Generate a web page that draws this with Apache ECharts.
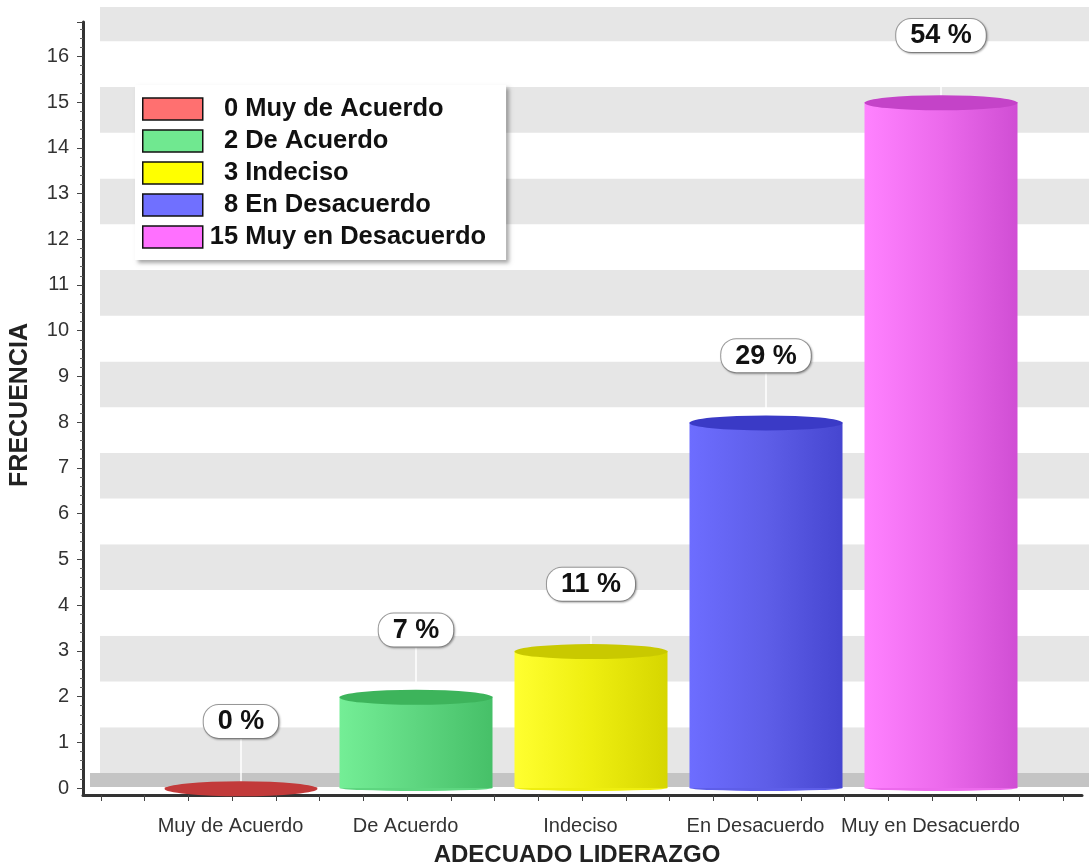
<!DOCTYPE html>
<html><head><meta charset="utf-8">
<script src="https://cdn.jsdelivr.net/npm/echarts@6/dist/echarts.min.js"></script>
<style>html,body{margin:0;padding:0;background:#fff}#c{width:1089px;height:864px}</style>
</head><body><div id="c"></div>
<script>
// ---- data ----
const categories = ['Muy de Acuerdo', 'De Acuerdo', 'Indeciso', 'En Desacuerdo', 'Muy en Desacuerdo'];
const values = [0, 2, 3, 8, 15];
const percentLabels = ['0 %', '7 %', '11 %', '29 %', '54 %'];
const yMin = 0, yMax = 16.75, yInterval = 1;
const xTitle = 'ADECUADO LIDERAZGO';
const yTitle = 'FRECUENCIA';

// ---- styles ----
const legendColors = ['#ff7070', '#70e890', '#ffff00', '#7070ff', '#ff70ff'];
const bodyLeft = ['#e05050', '#74ee96', '#ffff30', '#6d6dff', '#ff82ff'];
const bodyMid = ['#d04444', '#5ed680', '#eeee10', '#5e5ee8', '#ec6aec'];
const bodyRight = ['#c03a3a', '#46c068', '#d6d600', '#4646d0', '#d04ed4'];
const topColors = ['#c23a3a', '#3db45b', '#c9c900', '#3a3ac6', '#c443c8'];

const FONT = "'Liberation Sans', Arial, sans-serif";

const chart = echarts.init(document.getElementById('c'), null, {renderer: 'canvas'});

const barSeries = categories.map((name, i) => ({
  type: 'bar', name: name, xAxisIndex: 0, yAxisIndex: 0,
  data: values.map((v, j) => j === i ? v : '-'),
  barWidth: 153, barGap: '-100%',
  itemStyle: {color: new echarts.graphic.LinearGradient(0, 0, 1, 0, [
    {offset: 0, color: bodyLeft[i]}, {offset: 0.5, color: bodyMid[i]}, {offset: 1, color: bodyRight[i]}])},
  label: {
    show: true, position: 'top', distance: 0,
    formatter: p => percentLabels[p.dataIndex],
    fontFamily: FONT, fontWeight: 'bold', fontSize: 27, color: '#111',
    backgroundColor: '#fff', borderColor: '#999', borderWidth: 1, borderRadius: 15,
    padding: [3, 14, 2, 14], lineHeight: 28,
    shadowColor: 'rgba(0,0,0,0.25)', shadowBlur: 2, shadowOffsetX: 1, shadowOffsetY: 1
  },
  labelLayout: {dy: -50},
  labelLine: {show: true, lineStyle: {color: '#ffffff', width: 1.5}},
  z: 3
}));

const tops = {
  type: 'pictorialBar', name: 'tops', xAxisIndex: 0, yAxisIndex: 0,
  data: values.map((v, i) => ({value: v, itemStyle: {color: topColors[i]}})),
  symbol: 'circle', symbolSize: [153, 15], symbolPosition: 'end', symbolOffset: [0, '-45%'],
  z: 5, silent: true
};
const bottoms = {
  type: 'pictorialBar', name: 'bottoms', xAxisIndex: 0, yAxisIndex: 0,
  data: values.map((v, i) => ({value: v, itemStyle: {color: bodyMid[i]}})),
  symbol: 'circle', symbolSize: [153, 6], symbolPosition: 'start', symbolOffset: [0, '50%'],
  z: 2, silent: true
};

const G = {containLabel: false, outerBoundsMode: 'none'};
const hiddenX = (gi) => ({type: 'value', gridIndex: gi, min: 0, max: 1, show: false});
const option = {
  backgroundColor: '#fff',
  animation: false,
  grid: [
    Object.assign({left: 153.5, right: 60.5, top: 22, bottom: 76}, G),   // main plot
    Object.assign({left: 100, right: 0, top: 7, bottom: 91}, G),         // back wall (3D depth)
    Object.assign({left: 83, right: 7, top: 22, bottom: 69}, G),         // frame lines
    Object.assign({left: 100.75, width: 962.5, top: 22, bottom: 69}, G), // x minor ticks
    Object.assign({left: 90, right: 0, top: 7, bottom: 84}, G)           // floor
  ],
  legend: {
    orient: 'vertical', left: 135, top: 85,
    padding: [11, 20, 10, 7],
    backgroundColor: '#fff',
    shadowColor: 'rgba(0,0,0,0.35)', shadowBlur: 4, shadowOffsetX: 3, shadowOffsetY: 3,
    icon: 'rect',
    itemWidth: 60, itemHeight: 22, itemGap: 6,
    data: categories.map((c, i) => ({name: c, itemStyle: {color: legendColors[i], borderColor: '#111', borderWidth: 1.5}})),
    formatter: name => {
      const v = values[categories.indexOf(name)];
      return (v < 10 ? '\u2007' : '') + v + ' ' + name;
    },
    textStyle: {fontFamily: FONT, fontWeight: 'bold', fontSize: 25.5, color: '#111', lineHeight: 22, padding: [0, 0, 0, 2]}
  },
  xAxis: [
    {type: 'category', gridIndex: 0, data: categories,
     axisLine: {show: false}, axisTick: {show: false}, splitLine: {show: false},
     axisLabel: {fontFamily: FONT, fontSize: 20, color: '#333', margin: 28, padding: [0, 21, 0, 0], interval: 0},
     name: xTitle, nameLocation: 'middle', nameGap: 55,
     nameTextStyle: {fontFamily: FONT, fontWeight: 'bold', fontSize: 24, color: '#222', padding: [0, 28, 0, 0]}},
    {type: 'value', gridIndex: 1, min: 0, max: 1,
     axisLine: {show: false}, axisTick: {show: false}, axisLabel: {show: false}, splitLine: {show: false}},
    {type: 'value', gridIndex: 2, min: 0, max: 1,
     axisLine: {show: true, lineStyle: {color: '#333', width: 3}},
     axisTick: {show: false}, axisLabel: {show: false}, splitLine: {show: false}},
    {type: 'value', gridIndex: 3, min: 0, max: 22, interval: 1,
     axisLine: {show: false},
     axisTick: {show: true, length: 6, lineStyle: {color: '#444', width: 1}},
     axisLabel: {show: false}, splitLine: {show: false}},
    {type: 'value', gridIndex: 4, min: 0, max: 1,
     axisLine: {show: true, lineStyle: {color: '#c4c4c4', width: 14, cap: 'butt'}},
     axisTick: {show: false}, axisLabel: {show: false}, splitLine: {show: false}}
  ],
  yAxis: [
    {type: 'value', gridIndex: 0, min: yMin, max: yMax, interval: yInterval, offset: 70.5,
     axisLine: {show: false},
     axisTick: {show: true, length: 6, lineStyle: {color: '#444'}},
     minorTick: {show: true, splitNumber: 5, length: 3, lineStyle: {color: '#666'}},
     axisLabel: {fontFamily: FONT, fontSize: 20, color: '#333', margin: 14, showMaxLabel: false},
     splitLine: {show: false},
     name: yTitle, nameLocation: 'middle', nameGap: 50, nameRotate: 90,
     nameTextStyle: {fontFamily: FONT, fontWeight: 'bold', fontSize: 25, color: '#222'}},
    {type: 'value', gridIndex: 1, min: yMin, max: yMax, interval: yInterval,
     axisLine: {show: false}, axisTick: {show: false}, axisLabel: {show: false},
     splitLine: {show: false},
     splitArea: {show: true, areaStyle: {color: ['#e6e6e6', '#ffffff']}}},
    {type: 'value', gridIndex: 2, min: 0, max: 1,
     axisLine: {show: true, lineStyle: {color: '#333', width: 3}},
     axisTick: {show: false}, axisLabel: {show: false}, splitLine: {show: false}},
    {type: 'value', gridIndex: 3, show: false, min: 0, max: 1},
    {type: 'value', gridIndex: 4, show: false, min: 0, max: 1}
  ],
  series: [...barSeries, bottoms, tops]
};
chart.setOption(option);
</script>
</body></html>
